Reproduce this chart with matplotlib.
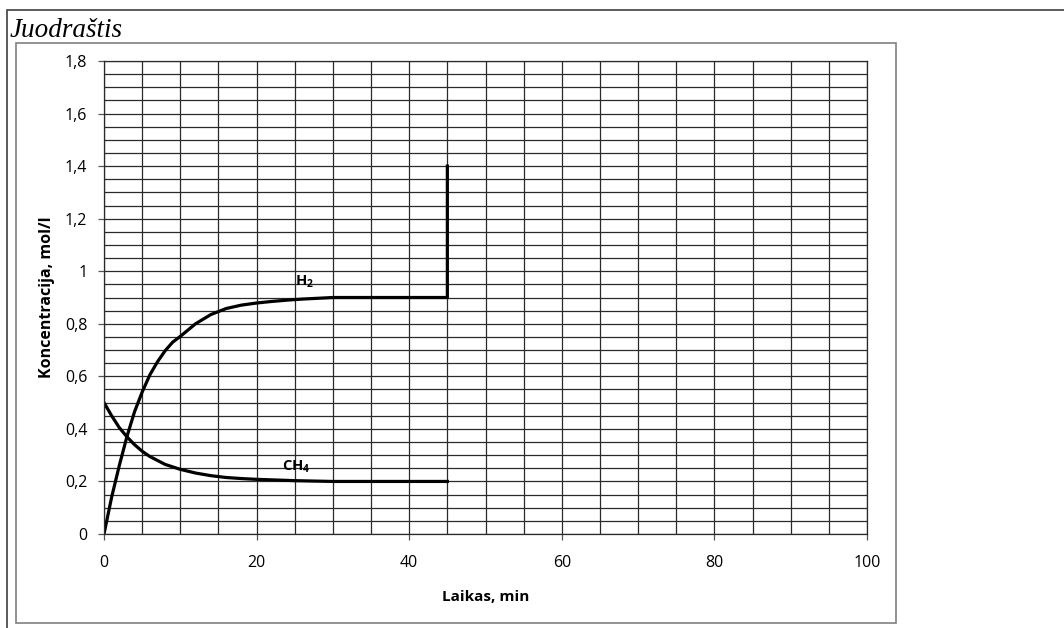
import matplotlib
matplotlib.use('Agg')
import matplotlib.pyplot as plt
import matplotlib.patches as patches
from matplotlib.ticker import MultipleLocator, FuncFormatter

plt.rcParams['font.family'] = ['Open Sans', 'DejaVu Sans']
plt.rcParams['mathtext.fontset'] = 'custom'
plt.rcParams['mathtext.rm'] = 'Open Sans'
plt.rcParams['mathtext.bf'] = 'Open Sans:bold'

# H2 concentration (mol/l) vs time (min)
h2_time = [0, 1, 2, 3, 4, 5, 6, 7, 8, 9, 10, 12, 14, 16, 18, 20, 22, 24, 26, 28, 30, 45, 45]
h2_conc = [0, 0.14, 0.26, 0.37, 0.465, 0.54, 0.605, 0.655, 0.697, 0.73, 0.752, 0.80, 0.835,
           0.858, 0.871, 0.879, 0.885, 0.890, 0.894, 0.897, 0.9, 0.9, 1.4]

# CH4 concentration
ch4_time = [0, 1, 2, 3, 4, 5, 6, 8, 10, 12, 14, 16, 18, 20, 25, 30, 45]
ch4_conc = [0.5, 0.45, 0.405, 0.37, 0.34, 0.315, 0.295, 0.265, 0.246, 0.232, 0.222,
            0.215, 0.211, 0.208, 0.203, 0.2, 0.2]

W, H = 1064, 628
fig = plt.figure(figsize=(W / 100, H / 100), dpi=100)
ax = fig.add_axes([104 / W, 1 - 534 / H, (867 - 104) / W, (534 - 61) / H])

# outer and inner frames (pixel coordinates)
def frame(x0, y0, x1, y1, color):
    fig.patches.append(patches.Rectangle(
        (x0 / W, 1 - y1 / H), (x1 - x0) / W, (y1 - y0) / H,
        transform=fig.transFigure, fill=False, edgecolor=color, linewidth=1.2))

frame(7, 10, 1070, 640, '#404040')
frame(16, 43, 896, 623, '#808080')

fig.text(10 / W, 1 - 37 / H, 'Juodraštis', family='Liberation Serif', style='italic',
         fontsize=19.5, ha='left', va='baseline')

ax.plot(h2_time, h2_conc, color='black', linewidth=2.3, solid_joinstyle='miter')
ax.plot(ch4_time, ch4_conc, color='black', linewidth=2.3)

ax.text(26.3, 0.96, r'H$_\mathbf{2}$', fontsize=10.5, fontweight='bold', ha='center', va='center')
ax.text(25.2, 0.255, r'CH$_\mathbf{4}$', fontsize=10.5, fontweight='bold', ha='center', va='center')

ax.set_xlim(0, 100)
ax.set_ylim(0, 1.8)
ax.xaxis.set_major_locator(MultipleLocator(20))
ax.xaxis.set_minor_locator(MultipleLocator(5))
ax.yaxis.set_major_locator(MultipleLocator(0.2))
ax.yaxis.set_minor_locator(MultipleLocator(0.05))

def comma(v, pos):
    s = f'{v:.1f}'.rstrip('0').rstrip('.')
    return s.replace('.', ',')

ax.yaxis.set_major_formatter(FuncFormatter(comma))
ax.xaxis.set_major_formatter(FuncFormatter(lambda v, p: f'{v:.0f}'))

ax.grid(True, which='both', color='#2a2a2a', linewidth=0.9)
ax.set_axisbelow(True)
ax.tick_params(which='major', direction='out', length=4, width=0.9, color='#555555',
               labelsize=11.5)
ax.tick_params(axis='y', which='major', pad=8)
ax.tick_params(axis='x', which='major', pad=11)
ax.tick_params(which='minor', length=0)
for sp in ax.spines.values():
    sp.set_color('#2a2a2a')
    sp.set_linewidth(0.9)

ax.set_xlabel('Laikas, min', fontsize=11, fontweight='bold', labelpad=14)
ax.set_ylabel('Koncentracija, mol/l', fontsize=11.5, fontweight='bold', labelpad=7)

fig.savefig('out.png', dpi=100)
